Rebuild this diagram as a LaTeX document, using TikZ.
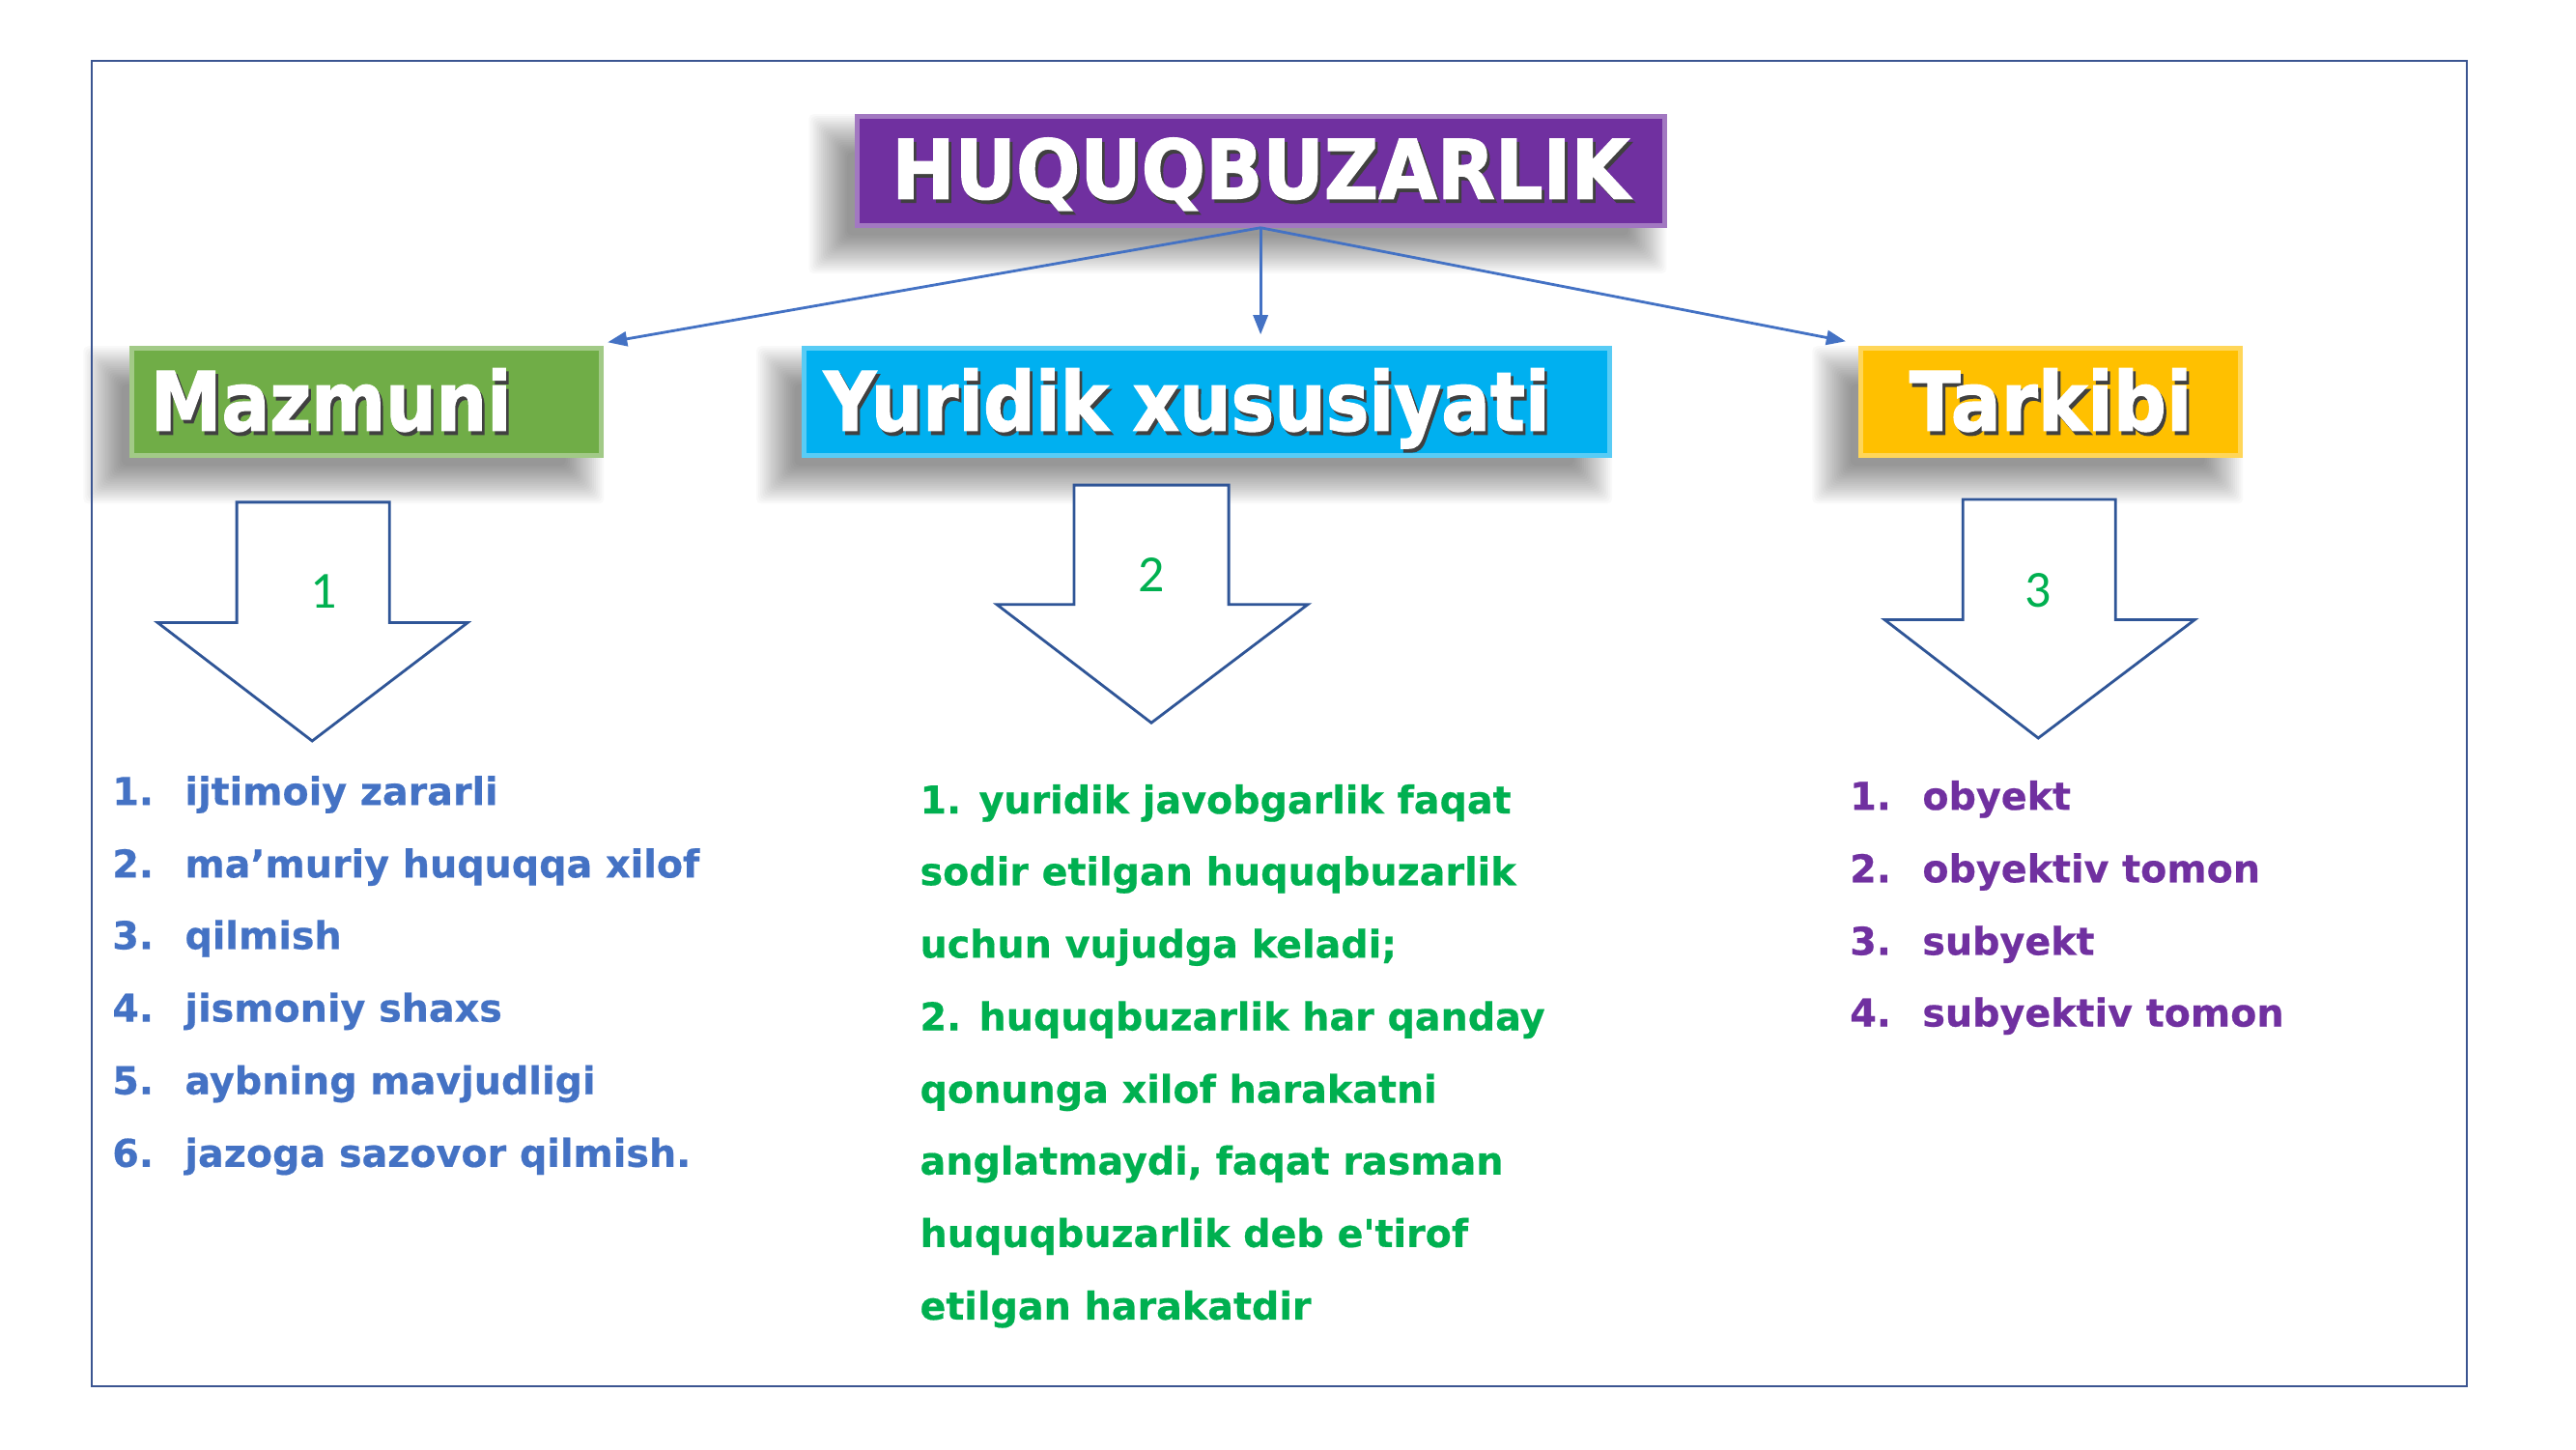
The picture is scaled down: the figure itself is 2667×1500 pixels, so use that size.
\documentclass[tikz,border=0pt]{standalone}
\usepackage{fontspec}
\setmainfont{DejaVu Sans}
\newfontfamily\lf{DejaVu Sans Bold}[FakeBold=0.5]
\newfontfamily\hf{DejaVu Sans Bold}[FakeBold=1.6]
\newfontfamily\cfont{Carlito}
\usetikzlibrary{arrows.meta,backgrounds}
\definecolor{cpurple}{HTML}{7030A0}
\definecolor{cgreen}{HTML}{70AD47}
\definecolor{ccyan}{HTML}{00B0F0}
\definecolor{cgold}{HTML}{FFC000}
\definecolor{cblue}{HTML}{4472C4}
\definecolor{cdark}{HTML}{2F5597}
\definecolor{cframe}{HTML}{3B5591}
\definecolor{tgreen}{HTML}{00B050}
\newcommand\shtext[2]{\scalebox{#1}[1]{\makebox[0pt][l]{\kern0.9pt\raisebox{-1.1pt}{\color{black!75}#2}}#2}}
\newcommand\softshadow[1]{%
  \foreach \k in {0,...,19}{%
    \pgfmathsetmacro\e{0.24-0.40*\k/19}%
    \fill[black, opacity=0.025, rounded corners=0.05cm]
      ([xshift=-0.24cm-\e cm, yshift=-0.24cm-\e cm]#1.south west) rectangle
      ([xshift=-0.24cm+\e cm, yshift=-0.24cm+\e cm]#1.north east);
  }}
\tikzset{
  hdrbox/.style={draw=#1!65!white, fill=#1, line width=0.05cm, inner xsep=0.2cm, inner ysep=0pt,
    text height=0.86cm, text depth=0.26cm, text=white,
    font=\hf\fontsize{24.4}{26}\selectfont},
  conn/.style={draw=cblue, line width=0.8pt, -{Triangle[length=0.2cm,width=0.15cm]}},
  blk/.style={draw=cdark, line width=0.8pt, fill=white, line join=miter},
  numlbl/.style={text=tgreen, font=\cfont\fontsize{15.5}{18}\selectfont, inner sep=0pt},
  ltxt/.style={font=\lf\fontsize{11.4}{13}\selectfont, anchor=base west, inner sep=0pt},
}
\begin{document}
\begin{tikzpicture}[x=0.01cm, y=-0.01cm]
\useasboundingbox (0,0) rectangle (2667,1500);
\begin{scope}[on background layer]
\fill[white] (0,0) rectangle (2667,1500);
\end{scope}
\begin{scope}[scale=0.9884, transform shape]
\draw[cframe, line width=0.7pt] (96,64) rectangle (2584,1452);

% header boxes
\node[hdrbox=cpurple, minimum width=8.45cm, text width=8.05cm, align=center, text depth=0.28cm] (t0) at (1320.5,179)
  {\shtext{0.92}{HUQUQBUZARLIK}};
\node[hdrbox=cgreen, minimum width=4.92cm, text width=4.52cm, align=left] (m) at (384,421)
  {\shtext{0.87}{Mazmuni}};
\node[hdrbox=ccyan, minimum width=8.43cm, text width=8.03cm, align=left] (y) at (1264.5,421)
  {\shtext{0.886}{Yuridik xususiyati}};
\node[hdrbox=cgold, minimum width=3.98cm, text width=3.58cm, align=center] (k) at (2148,421)
  {\shtext{0.91}{Tarkibi}};

\begin{scope}[on background layer]
\softshadow{t0}
\softshadow{m}
\softshadow{y}
\softshadow{k}
\end{scope}

% connectors
\draw[conn] (t0.south) -- ([xshift=0.04cm,yshift=0.04cm]m.north east);
\draw[conn, shorten >=0.12cm] (t0.south) -- (t0.south |- y.north);
\draw[conn] (t0.south) -- ([xshift=-0.13cm,yshift=0.05cm]k.north west);

% block arrows
\draw[blk] (248,526) -- (408,526) -- (408,652) -- (490,652) -- (327,776) -- (165,652) -- (248,652) -- cycle;
\draw[blk] (1125,508) -- (1287,508) -- (1287,633) -- (1370,633) -- (1206,757) -- (1044,633) -- (1125,633) -- cycle;
\draw[blk] (2056,523) -- (2216,523) -- (2216,649) -- (2299,649) -- (2135,773) -- (1974,649) -- (2056,649) -- cycle;
\node[numlbl] (n1) at (339,619) {1};
\node[numlbl] (n2) at (1206,602) {2};
\node[numlbl] (n3) at (2135,618) {3};

% left list
\begin{scope}[every node/.style={ltxt, text=cblue}]
\node (l1n) at (117,843) {1.};  \node (l1t) at (193,843) {ijtimoiy zararli};
\node (l2n) at (117,919) {2.};  \node (l2t) at (193,919) {ma’muriy huquqqa xilof};
\node (l3n) at (117,994) {3.};  \node (l3t) at (193,994) {qilmish};
\node (l4n) at (117,1070) {4.}; \node (l4t) at (193,1070) {jismoniy shaxs};
\node (l5n) at (117,1146) {5.}; \node (l5t) at (193,1146) {aybning mavjudligi};
\node (l6n) at (117,1222) {6.}; \node (l6t) at (193,1222) {jazoga sazovor qilmish.};
\end{scope}

% middle list
\begin{scope}[every node/.style={ltxt, text=tgreen}]
\node (c1) at (963,852) {1. yuridik javobgarlik faqat};
\node (c2) at (963,927) {sodir etilgan huquqbuzarlik};
\node (c3) at (963,1003) {uchun vujudga keladi;};
\node (c4) at (963,1079) {2. huquqbuzarlik har qanday};
\node (c5) at (963,1155) {qonunga xilof harakatni};
\node (c6) at (963,1230) {anglatmaydi, faqat rasman};
\node (c7) at (963,1306) {huquqbuzarlik deb e'tirof};
\node (c8) at (963,1382) {etilgan harakatdir};
\end{scope}

% right list
\begin{scope}[every node/.style={ltxt, text=cpurple}]
\node (r1n) at (1937,848) {1.};  \node (r1t) at (2013,848) {obyekt};
\node (r2n) at (1937,924) {2.};  \node (r2t) at (2013,924) {obyektiv tomon};
\node (r3n) at (1937,1000) {3.}; \node (r3t) at (2013,1000) {subyekt};
\node (r4n) at (1937,1075) {4.}; \node (r4t) at (2013,1075) {subyektiv tomon};
\end{scope}
\end{scope}
\end{tikzpicture}
\end{document}
